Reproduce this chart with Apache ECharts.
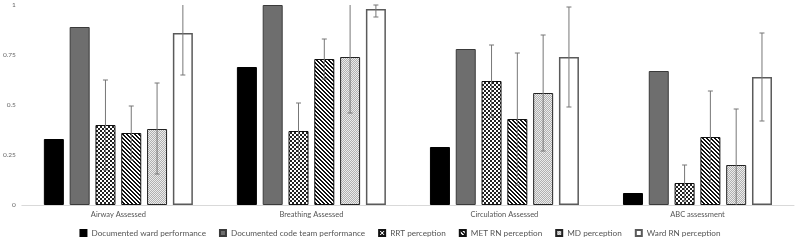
<!DOCTYPE html>
<html><head><meta charset="utf-8">
<script src="https://cdn.jsdelivr.net/npm/echarts@6/dist/echarts.min.js"></script>
<style>html,body{margin:0;padding:0;background:#fff}#c{width:800px;height:241px}</style>
</head><body><div id="c"></div>
<script>
var categories = ['Airway Assessed', 'Breathing Assessed', 'Circulation Assessed', 'ABC assessment'];
var seriesNames = ['Documented ward performance', 'Documented code team performance', 'RRT perception', 'MET RN perception', 'MD perception', 'Ward RN perception'];
var wardPerf = [0.33, 0.69, 0.29, 0.06];
var codeTeamPerf = [0.89, 1.00, 0.78, 0.67];
var rrtPerc = [0.40, 0.37, 0.62, 0.11];
var metPerc = [0.36, 0.73, 0.43, 0.34];
var mdPerc = [0.38, 0.74, 0.56, 0.20];
var wardRnPerc = [0.86, 0.98, 0.74, 0.64];
// error bar ranges [low, high] (null = no error bar)
var wardPerfErr = [null, null, null, null];
var codeTeamErr = [null, null, null, null];
var rrtErr = [[0.175, 0.625], [0.23, 0.51], [0.44, 0.80], [0.02, 0.20]];
var metErr = [[0.225, 0.495], [0.63, 0.83], [0.10, 0.76], [0.11, 0.57]];
var mdErr = [[0.155, 0.61], [0.46, 1.02], [0.27, 0.85], [-0.08, 0.48]];
var wardRnErr = [[0.65, 1.07], [0.94, 1.00], [0.49, 0.99], [0.42, 0.86]];
var yTicks = [0, 0.25, 0.5, 0.75, 1];

function makePattern(size, fn) {
  var c = document.createElement('canvas');
  c.width = size; c.height = size;
  var ctx = c.getContext('2d');
  for (var y = 0; y < size; y++) for (var x = 0; x < size; x++) {
    ctx.fillStyle = fn(x, y); ctx.fillRect(x, y, 1, 1);
  }
  return { image: c, repeat: 'repeat' };
}
var checker = makePattern(4, function (x, y) { return ((Math.floor(x / 2) + Math.floor(y / 2)) % 2) ? '#222222' : '#ffffff'; });
var stripes = makePattern(4, function (x, y) { var d = ((x - y) % 4 + 4) % 4; return (d === 0 || d === 1) ? '#111111' : '#ffffff'; });
var dots = makePattern(2, function (x, y) { return ((x + y) % 2) ? '#b0b0b0' : '#ececec'; });

var values = [wardPerf, codeTeamPerf, rrtPerc, metPerc, mdPerc, wardRnPerc];
var errs = [wardPerfErr, codeTeamErr, rrtErr, metErr, mdErr, wardRnErr];
var styles = [
  { color: '#000000', borderColor: '#000000', borderWidth: 1 },
  { color: '#6e6e6e', borderColor: '#3a3a3a', borderWidth: 1 },
  { color: checker, borderColor: '#111111', borderWidth: 1 },
  { color: stripes, borderColor: '#111111', borderWidth: 1 },
  { color: dots, borderColor: '#222222', borderWidth: 1 },
  { color: '#ffffff', borderColor: '#5a5a5a', borderWidth: 1.5 }
];
var BAR_W = 20, PITCH = 25.8;

var series = [];
for (var i = 0; i < 6; i++) {
  series.push({
    name: seriesNames[i], type: 'bar', data: values[i],
    barWidth: BAR_W, barGap: ((PITCH - BAR_W) / BAR_W * 100).toFixed(1) + '%',
    itemStyle: styles[i], emphasis: { disabled: true }, animation: false
  });
}
var errData = [];
for (var s = 0; s < 6; s++) for (var k = 0; k < categories.length; k++) {
  if (errs[s][k]) errData.push([k, errs[s][k][0], errs[s][k][1], s]);
}
series.push({
  type: 'custom', name: 'err', data: errData, z: 10, animation: false, silent: true,
  renderItem: function (params, api) {
    var k = api.value(0), lo = api.value(1), hi = api.value(2), s = api.value(3);
    var loC = Math.max(0, lo), hiC = Math.min(1, hi);
    var p1 = api.coord([k, loC]), p2 = api.coord([k, hiC]);
    var x = p1[0] + (s - 2.5) * PITCH;
    var st = { stroke: '#777777', lineWidth: 1 };
    var ch = [{ type: 'line', shape: { x1: x, y1: p1[1], x2: x, y2: p2[1] }, style: st }];
    if (lo >= 0) ch.push({ type: 'line', shape: { x1: x - 2.5, y1: p1[1], x2: x + 2.5, y2: p1[1] }, style: st });
    if (hi <= 1) ch.push({ type: 'line', shape: { x1: x - 2.5, y1: p2[1], x2: x + 2.5, y2: p2[1] }, style: st });
    return { type: 'group', children: ch };
  }
});

var chart = echarts.init(document.getElementById('c'), null, { renderer: 'canvas' });
chart.setOption({
  animation: false,
  textStyle: { fontFamily: 'Lato' },
  grid: { left: 18, right: 6, top: 5, bottom: 36 },
  legend: {
    data: seriesNames, top: 224, left: 'center', icon: 'rect', itemWidth: 6, itemHeight: 6, itemGap: 13,
    textStyle: { fontFamily: 'Lato', fontSize: 8.2, color: '#555' }
  },
  xAxis: {
    type: 'category', data: categories,
    axisLine: { lineStyle: { color: '#d9d9d9', width: 1 } },
    axisTick: { show: false },
    axisLabel: { fontFamily: 'Lato', fontSize: 7.5, color: '#555', margin: 6 }
  },
  yAxis: {
    type: 'value', min: 0, max: 1, interval: 0.25,
    axisLine: { show: false }, axisTick: { show: false }, splitLine: { show: false },
    axisLabel: { fontFamily: 'Lato', fontSize: 6.5, color: '#666', margin: 6,
      formatter: function (v) { return yTicks.indexOf(v) >= 0 ? String(v) : ''; } }
  },
  series: series
});
</script></body></html>
